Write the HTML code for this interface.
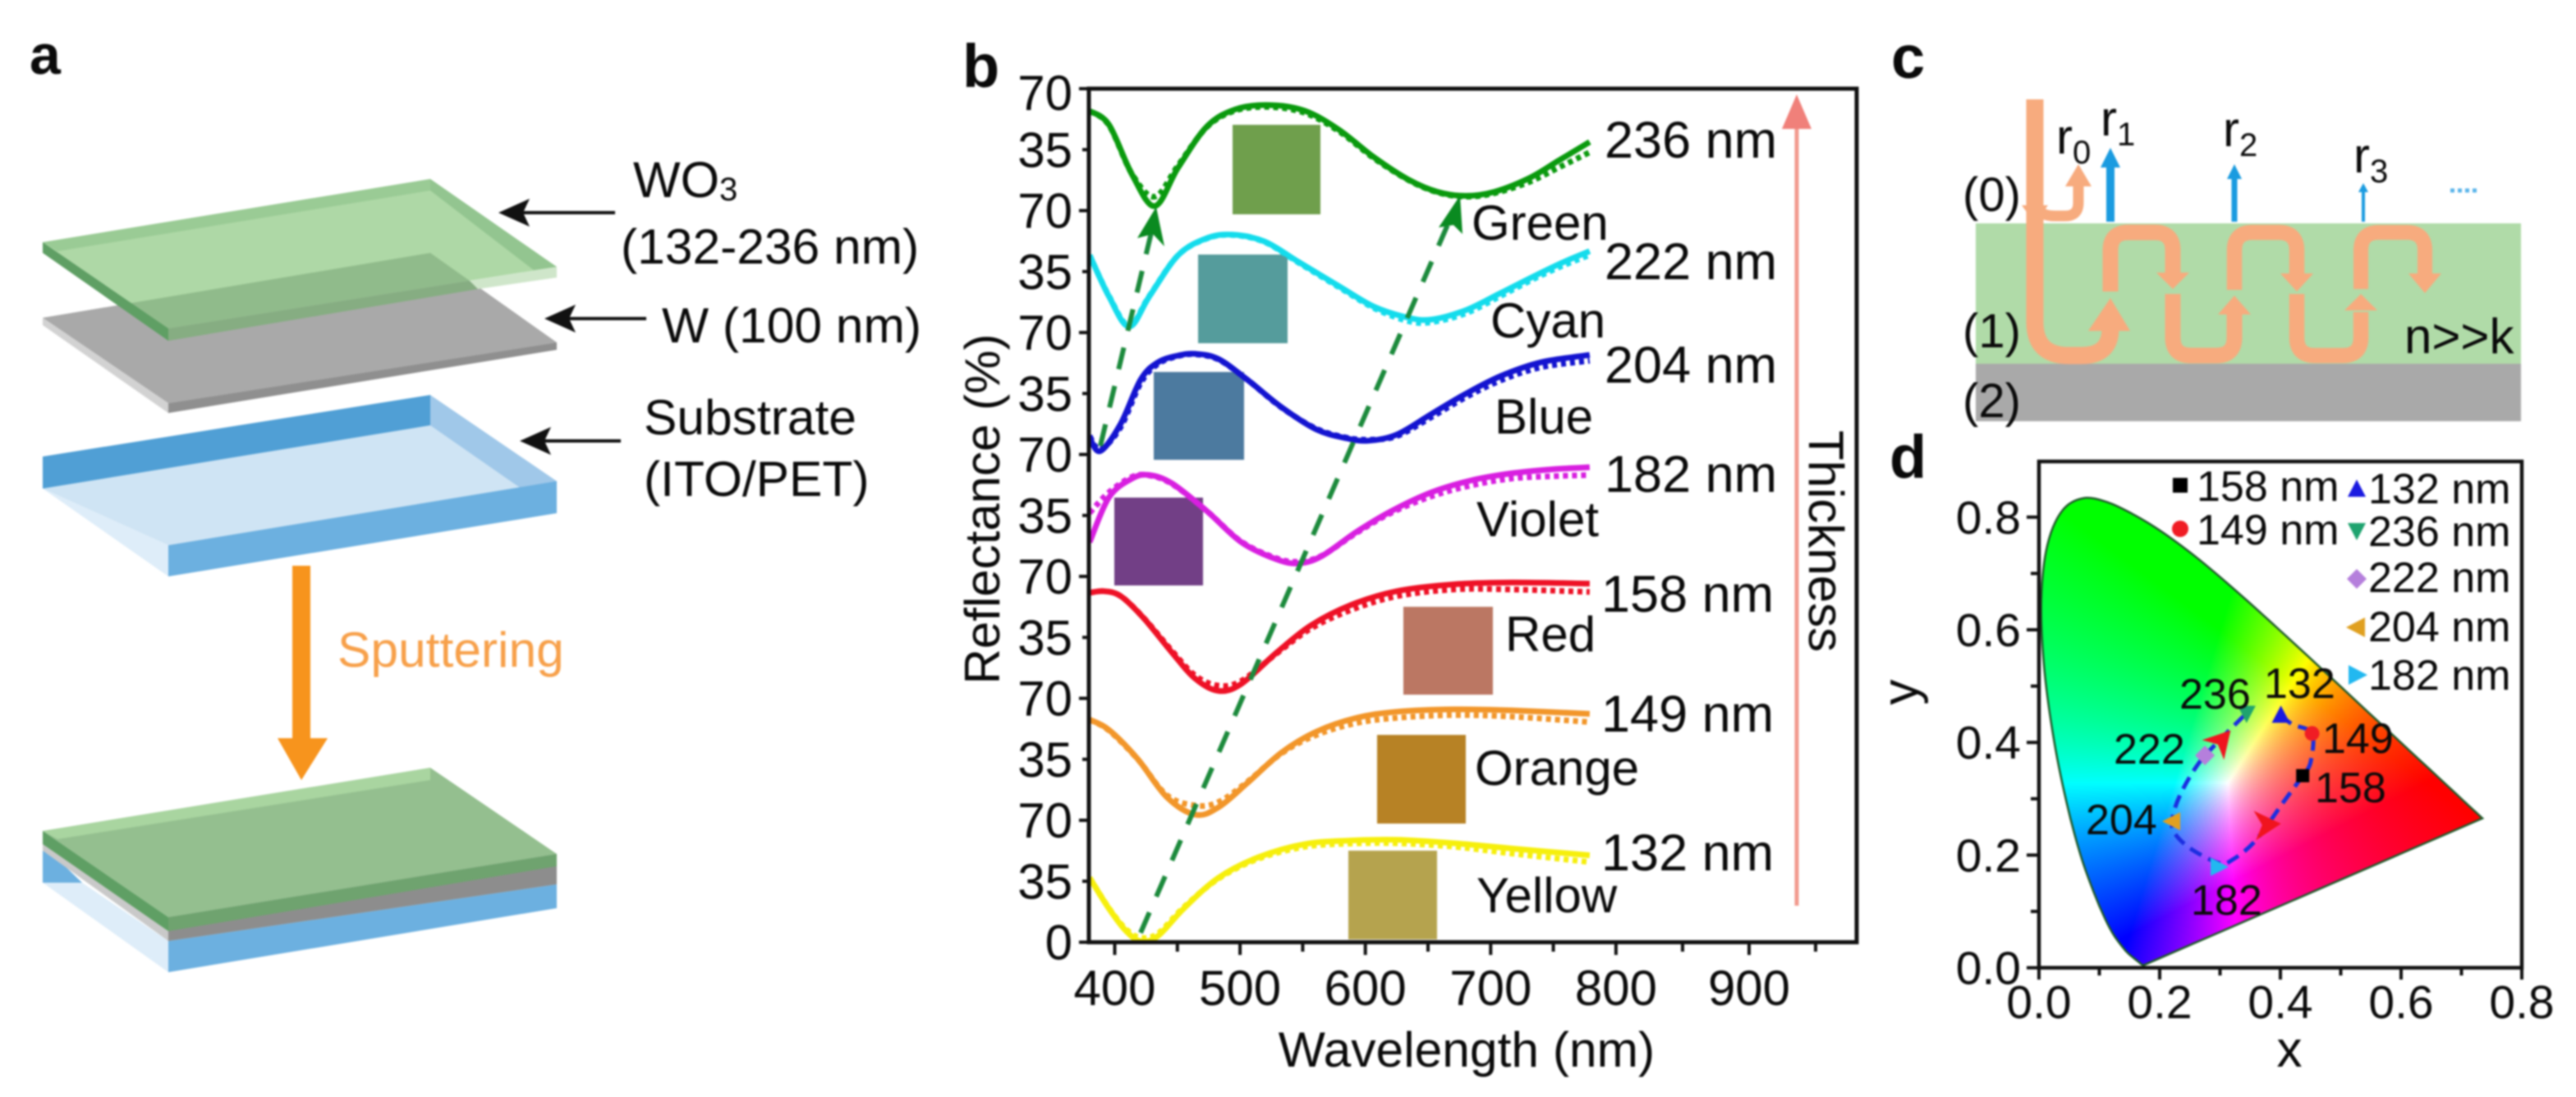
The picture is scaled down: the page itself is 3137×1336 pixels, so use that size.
<!DOCTYPE html>
<html lang="en">
<head>
<meta charset="utf-8">
<title>WO3 thin film structural colour figure</title>
<style>
html,body{margin:0;padding:0;background:#fff;width:3137px;height:1336px;overflow:hidden}
#stage{position:relative;width:3137px;height:1336px;filter:blur(1px)}
#gamut{position:absolute;left:2483px;top:562px}
#art{position:absolute;left:0;top:0}
text{font-family:"Liberation Sans",sans-serif;fill:#0a0a0a}
</style>
</head>
<body>
<div id="stage">
<canvas id="gamut" width="588" height="617"></canvas>
<svg id="art" width="3137" height="1336" viewBox="0 0 3137 1336" xmlns="http://www.w3.org/2000/svg">

<!-- Panel a -->
<g>
<text x="36" y="90" font-size="68" font-weight="700">a</text>
<g>
<polygon points="52,387 524,308 678,417 205,491" fill="#a9a9a9"/>
<polygon points="205,491 678,417 678,426 205,503" fill="#8f8f8f"/>
<polygon points="52,387 205,491 205,503 52,396" fill="#d2d2d2"/>
</g>
<g>
<polygon points="52,295 524,218 678,325 205,400" fill="#aed8a6"/>
<polygon points="160,369 524,308 572,342 205,400" fill="#90bb8b"/>
<polygon points="52,295 524,218 524,232 70,306" fill="#9acb95"/>
<polygon points="524,218 678,325 650,329 524,232" fill="#93c590"/>
<polygon points="205,400 572,342 582,352 205,415" fill="#86ad82"/>
<polygon points="572,342 678,325 678,338 582,352" fill="#cfe6ca"/>
<polygon points="52,295 205,400 205,415 52,308" fill="#5f9f64"/>
</g>
<g>
<polygon points="52,595 524,518 678,586 205,664" fill="#cfe4f4"/>
<polygon points="52,556 524,481 524,518 52,595" fill="#509fd5"/>
<polygon points="524,481 678,586 678,625 524,518" fill="#a0c8e9"/>
<polygon points="52,595 205,664 205,702 52,595" fill="#deedf9"/>
<polygon points="205,664 678,586 678,625 205,702" fill="#6cb0e0"/>
</g>
<polygon points="356,689 378,689 378,899 399,899 367,950 338,899 356,899" fill="#f7941d"/>
<text x="411" y="812" font-size="60.5" style="fill:#f7a04a">Sputtering</text>
<g>
<polygon points="205,1146 678,1077 678,1106 205,1184" fill="#6cb0e0"/>
<polygon points="52,1075 205,1184 205,1146 100,1075" fill="#deedf9"/>
<polygon points="52,1036 52,1075 100,1075 70,1046" fill="#6cb0e0"/>
<polygon points="205,1146 678,1077 678,1040 205,1117" fill="#8d8d8d"/>
<polygon points="52,1025 205,1134 205,1146 52,1036" fill="#c9c9c9"/>
<polygon points="52,1012 524,935 678,1040 205,1117" fill="#94bf8f"/>
<polygon points="52,1012 524,935 524,950 70,1022" fill="#a9d5a0"/>
<polygon points="205,1117 678,1040 678,1055 205,1134" fill="#6fa36f"/>
<polygon points="52,1012 205,1117 205,1134 52,1028" fill="#5f9f64"/>
</g>
<g>
<line x1="635" y1="259" x2="749" y2="259" stroke="#111" stroke-width="4"/>
<polygon points="607,259 645,242 637,259 645,276" fill="#111"/>
</g>
<g>
<line x1="690" y1="388" x2="787" y2="388" stroke="#111" stroke-width="4"/>
<polygon points="663,388 701,371 693,388 701,405" fill="#111"/>
</g>
<g>
<line x1="660" y1="537" x2="756" y2="537" stroke="#111" stroke-width="4"/>
<polygon points="633,537 671,520 663,537 671,554" fill="#111"/>
</g>
<text x="771" y="240" font-size="61">WO<tspan font-size="40" dy="4">3</tspan></text>
<text x="756" y="321" font-size="60.5">(132-236 nm)</text>
<text x="806" y="417" font-size="60.5">W (100 nm)</text>
<text x="784" y="529" font-size="60.5">Substrate</text>
<text x="784" y="604" font-size="60.5">(ITO/PET)</text>
</g>

<!-- Panel b static -->
<g id="panelB">
<text x="1172" y="106" font-size="74" font-weight="700">b</text>
<g id="swatches">
<rect x="1501" y="152" width="107" height="109" fill="#6f9f4c"/>
<rect x="1459" y="310" width="109" height="108" fill="#559c9c"/>
<rect x="1405" y="453" width="110" height="107" fill="#4c7a9f"/>
<rect x="1357" y="606" width="108" height="107" fill="#723f86"/>
<rect x="1709" y="739" width="109" height="107" fill="#bb7763"/>
<rect x="1677" y="895" width="108" height="108" fill="#b78225"/>
<rect x="1642" y="1036" width="108" height="108" fill="#b5a34e"/>
</g>
<g id="curves"></g>
<g>
<line x1="1389" y1="1136" x2="1768" y2="262" stroke="#1c8a3c" stroke-width="6" stroke-dasharray="27 21"/>
<polygon points="1778,238 1781,285 1770,274 1752,277" fill="#0a8a20"/>
<line x1="1340" y1="543" x2="1404" y2="275" stroke="#1c8a3c" stroke-width="6" stroke-dasharray="27 21"/>
<polygon points="1408,252 1418,300 1404,285 1385,290" fill="#0a8a20"/>
</g>
<g id="axesB"></g>
<text transform="translate(1217,620) rotate(-90)" text-anchor="middle" font-size="60">Reflectance (%)</text>
<text x="1786" y="1299" text-anchor="middle" font-size="60.5">Wavelength (nm)</text>
<text x="1954" y="192" font-size="63">236 nm</text>
<text x="1954" y="340" font-size="63">222 nm</text>
<text x="1954" y="466" font-size="63">204 nm</text>
<text x="1954" y="599" font-size="63">182 nm</text>
<text x="1950" y="745" font-size="63">158 nm</text>
<text x="1950" y="891" font-size="63">149 nm</text>
<text x="1950" y="1060" font-size="63">132 nm</text>
<text x="1792" y="292" font-size="60">Green</text>
<text x="1815" y="411" font-size="60">Cyan</text>
<text x="1820" y="528" font-size="60">Blue</text>
<text x="1798" y="653" font-size="60">Violet</text>
<text x="1833" y="793" font-size="60">Red</text>
<text x="1796" y="956" font-size="60">Orange</text>
<text x="1798" y="1111" font-size="60">Yellow</text>
<g>
<line x1="2188" y1="1103" x2="2188" y2="150" stroke="#f29a8e" stroke-width="5"/>
<polygon points="2188,115 2206,157 2170,157" fill="#f0807a"/>
</g>
<text transform="translate(2203,524) rotate(90)" font-size="60">Thickness</text>
</g>

<!-- Panel c -->
<g>
<text x="2303" y="95" font-size="74" font-weight="700">c</text>
<rect x="2406" y="272" width="664" height="171" fill="#b0dba8"/>
<rect x="2406" y="443" width="664" height="70" fill="#a9a9a9"/>
<g fill="none" stroke="#f7ab7e">
<path d="M2478,121 V392 Q2478,433 2519,433 H2535 Q2570,433 2570,400" stroke-width="21"/>
<path d="M2570,355 V305 Q2570,283 2592,283 H2624 Q2646,283 2646,305 V335" stroke-width="19"/>
<path d="M2646,358 V411 Q2646,433 2668,433 H2699 Q2721,433 2721,411 V383" stroke-width="19"/>
<path d="M2721,353 V305 Q2721,283 2743,283 H2775 Q2797,283 2797,305 V335" stroke-width="18.5"/>
<path d="M2797,358 V411 Q2797,433 2819,433 H2853 Q2875,433 2875,411 V380" stroke-width="18.5"/>
<path d="M2875,352 V305 Q2875,283 2897,283 H2931 Q2953,283 2953,305 V335" stroke-width="18"/>
<path d="M2484,255 Q2486,263 2503,263 H2515 Q2531,263 2531,247 V225" stroke-width="13"/>
</g>
<g fill="#f7ab7e">
<polygon points="2462,250 2494,250 2478,272"/>
<polygon points="2515,227 2547,227 2531,200"/>
<polygon points="2543,403 2594,403 2570,363"/>
<polygon points="2626,332 2666,332 2646,352"/>
<polygon points="2701,383 2741,383 2721,360"/>
<polygon points="2777,333 2817,333 2797,355"/>
<polygon points="2855,378 2895,378 2875,358"/>
<polygon points="2933,333 2973,333 2953,357"/>
</g>
<g>
<line x1="2570" y1="270" x2="2570" y2="200" stroke="#1a9be0" stroke-width="10"/>
<polygon points="2570,180 2582,204 2558,204" fill="#1a9be0"/>
<line x1="2721" y1="270" x2="2721" y2="215" stroke="#1a9be0" stroke-width="7"/>
<polygon points="2721,200 2730,218 2712,218" fill="#1a9be0"/>
<line x1="2878" y1="270" x2="2878" y2="232" stroke="#1a9be0" stroke-width="4"/>
<polygon points="2878,223 2884,234 2872,234" fill="#1a9be0"/>
<line x1="2984" y1="232" x2="3020" y2="232" stroke="#5ab4ea" stroke-width="5" stroke-dasharray="5 4"/>
</g>
<text x="2390" y="257" font-size="58">(0)</text>
<text x="2390" y="423" font-size="58">(1)</text>
<text x="2390" y="508" font-size="58">(2)</text>
<text x="2504" y="187" font-size="60">r<tspan font-size="40" dy="12">0</tspan></text>
<text x="2558" y="165" font-size="60">r<tspan font-size="40" dy="12">1</tspan></text>
<text x="2707" y="178" font-size="60">r<tspan font-size="40" dy="12">2</tspan></text>
<text x="2866" y="210" font-size="60">r<tspan font-size="40" dy="12">3</tspan></text>
<text x="2928" y="430" font-size="60">n&gt;&gt;k</text>
</g>

<!-- Panel d -->
<g id="panelD">
<text x="2301" y="582" font-size="74" font-weight="700">d</text>
<g id="cieMarks"></g>
<g id="axesD"></g>
<text x="2788" y="1299" text-anchor="middle" font-size="62">x</text>
<text transform="translate(2335,843) rotate(-90)" text-anchor="middle" font-size="62">y</text>
<text x="2654" y="863" font-size="52">236</text>
<text x="2757" y="850" font-size="52">132</text>
<text x="2574" y="930" font-size="52">222</text>
<text x="2828" y="917" font-size="52">149</text>
<text x="2819" y="977" font-size="52">158</text>
<text x="2540" y="1016" font-size="52">204</text>
<text x="2668" y="1114" font-size="52">182</text>
<g>
<rect x="2646" y="582" width="18" height="18" fill="#000"/>
<text x="2675" y="610" font-size="52">158 nm</text>
<circle cx="2655" cy="644" r="10" fill="#f01c24"/>
<text x="2675" y="663" font-size="52">149 nm</text>
<polygon points="2870,584 2881,605 2859,605" fill="#1a1ae0"/>
<text x="2884" y="613" font-size="52">132 nm</text>
<polygon points="2870,658 2881,637 2859,637" fill="#1fa36f"/>
<text x="2884" y="665" font-size="52">236 nm</text>
<polygon points="2870,693 2882,705 2870,717 2858,705" fill="#b57fdc"/>
<text x="2884" y="721" font-size="52">222 nm</text>
<polygon points="2857,764 2880,752 2880,776" fill="#e0a020"/>
<text x="2884" y="781" font-size="52">204 nm</text>
<polygon points="2883,822 2860,810 2860,834" fill="#22b8f0"/>
<text x="2884" y="840" font-size="52">182 nm</text>
</g>
</g>
</svg>
</div>

<script>
// Panel b data (reflectance %, each curve is stacked on its own 70 % band)
const bandNames = ['yellow','orange','red','violet','blue','cyan','green'];
const bandColors = ['#f6ef0c','#f2962a','#ee1126','#d81fe0','#1414d0','#14dcec','#0a9a0e'];

const yellowWl = [380,395.4,409,420.7,434.5,455,482.8,515,552,588.5,625,671,717,779];
const yellowFit = [37,19.3,6.5,0.6,3.6,19.3,37,48.9,56.4,58.4,58.8,56.8,53.8,49.9];
const yellowMeas = [37,19.5,7.5,2.6,5,20,36.5,48,54.8,56.6,56.8,54.8,50.9,46];

const orangeWl = [380,395.4,418.4,441.4,464.4,482.8,505.7,533.3,561,593,625,671,717,779];
const orangeFit = [57.8,51.9,35.1,13.4,3.2,7.5,21.3,39,50.9,58.8,62.3,63.7,63.1,61.1];
const orangeMeas = [57.8,51.5,35,14.5,8.5,10.5,22,38.5,49,55.8,58.8,60.4,59.5,56.4];

const redWl = [380,391.5,405,423.4,446,464.4,482.8,501,528.8,556.4,588.5,625,671,717,779];
const redFit = [60.6,61.5,58.6,45.8,26,11.2,4.3,8.3,26,41.8,53.6,61.5,65.5,66.5,65.9];
const redMeas = [60.6,61.5,58.6,46,27,13,7.3,10,25.5,40,50.7,58.6,62.5,62.5,61.1];

const violetWl = [380,395.4,413.8,427.6,445.9,473.6,501,528.8,547,565.5,593,620.7,652.9,685,717,749.4,779];
const violetFit = [19.7,45.4,56.2,58.2,53.3,37.5,19.7,9.9,7.5,11.8,25.6,37.5,48.3,55.2,59.2,61.5,62.7];
const violetMeas = [36.5,48.3,57.2,58,53,37.5,20,10.5,8.5,12,25,36.5,46,52.3,56.2,57.5,58.2];

const blueWl = [380,388.5,404.6,420.7,434.5,450.6,464.4,482.8,505.7,533,560.9,583.9,602,625,652.9,680.5,708,740,779];
const blueFit = [9.5,2,17.4,43,52.9,56.8,57.8,54.8,43,27.2,14.4,9.5,7.9,11.4,23.3,35,45,52.9,57.2];
const blueMeas = [10.5,3,15.5,41,52,56.5,57.5,54.5,43,27,14.8,9.8,8.5,10.5,21.5,33,42.5,50,53.8];

const cyanWl = [380,395.4,411.5,427.6,450.6,473.6,494,519.5,547,579,607,634.5,653,680,708,735,758,779];
const cyanFit = [44.4,20.7,3.4,20.7,44.4,54.2,56.2,52.3,40.4,26.6,14.8,8.5,7.5,12.8,22.7,32.5,40.4,46.7];
const cyanMeas = [44.4,21,4,21,44.4,54,56,52,40,26,14,6.5,6,11,21,31,38.5,44.5];

const greenWl = [380,395.4,413.8,432,450.6,473.6,496.6,524,552,579,607,634.5,657.5,680,703,731,754,779];
const greenFit = [57.2,49.3,20.7,2.6,24.7,48.3,58.2,60.6,57.2,46.4,30.6,17.8,10.8,8.5,10.8,18.7,28.6,39.4];
const greenMeas = [57.2,49,21,8,26,48,57.5,59.5,56,45.5,30,17.5,10.5,8,10,16.5,24.6,33.5];

const bandWl = [yellowWl,orangeWl,redWl,violetWl,blueWl,cyanWl,greenWl];
const bandFit = [yellowFit,orangeFit,redFit,violetFit,blueFit,cyanFit,greenFit];
const bandMeas = [yellowMeas,orangeMeas,redMeas,violetMeas,blueMeas,cyanMeas,greenMeas];

const yTickLabelsB = ['0','35','70','35','70','35','70','35','70','35','70','35','70','35','70'];
const xMajorB = [400,500,600,700,800,900];
const xMinorB = [450,550,650,750,850,950];

// Panel d data
const locusX = [.1741,.1733,.1714,.1689,.1644,.1566,.1440,.1241,.1096,.0913,.0687,.0454,.0235,.0082,.0039,.0139,.0389,.0743,.1142,.1547,.1929,.2296,.2658,.3016,.3373,.3731,.4087,.4441,.4788,.5125,.5448,.5752,.6029,.6270,.6658,.6915,.7079,.7260,.7347];
const locusY = [.0050,.0048,.0051,.0069,.0109,.0177,.0297,.0578,.0868,.1327,.2007,.2950,.4127,.5384,.6548,.7502,.8120,.8338,.8262,.8059,.7816,.7543,.7243,.6923,.6589,.6245,.5896,.5547,.5202,.4866,.4544,.4242,.3965,.3725,.3340,.3083,.2920,.2740,.2653];
const loopX = [.401,.420,.4525,.450,.437,.405,.359,.321,.298,.252,.226,.2205,.233,.264,.302,.344];
const loopY = [.448,.432,.416,.365,.341,.294,.226,.192,.186,.211,.237,.260,.305,.362,.407,.452];
const sampleNames = ['158','149','132','236','222','204','182'];
const sampleX = [.437,.4525,.4008,.344,.275,.2205,.298];
const sampleY = [.341,.416,.448,.452,.377,.26,.179];
const sampleShapes = ['square','circle','up','down','diamond','left','right'];
const sampleColors = ['#000','#f01c24','#1a1ae0','#1fa36f','#b57fdc','#e0a020','#22b8f0'];
const arrowX = [.302,.378];
const arrowY = [.403,.254];
const arrowAngles = [-48,-4];
const xTicksD = [0,.2,.4,.6,.8];
const yTicksD = [0,.2,.4,.6,.8];
const xMinorD = [.1,.3,.5,.7];
const yMinorD = [.1,.3,.5,.7];

const NS = 'http://www.w3.org/2000/svg';
function mk(parent, tag, attrs, txt){
  const e = document.createElementNS(NS, tag);
  for (const k in attrs) e.setAttribute(k, attrs[k]);
  if (txt !== undefined) e.textContent = txt;
  parent.appendChild(e);
  return e;
}
function xB(w){ return w <= 800 ? 1357.5 + (w-400)*1.526 : 1968 + (w-800)*1.62; }
function yB(v){ return 1147.5 - v*2.1214; }
function xD(v){ return 2483 + v*735; }
function yD(v){ return 1178.6 - v*686; }
function smooth(pts){
  let d = 'M'+pts[0][0].toFixed(1)+','+pts[0][1].toFixed(1);
  for (let i=0;i<pts.length-1;i++){
    const p0=pts[Math.max(i-1,0)],p1=pts[i],p2=pts[i+1],p3=pts[Math.min(i+2,pts.length-1)];
    const c1=[p1[0]+(p2[0]-p0[0])/6,p1[1]+(p2[1]-p0[1])/6];
    const c2=[p2[0]-(p3[0]-p1[0])/6,p2[1]-(p3[1]-p1[1])/6];
    d+=' C'+c1[0].toFixed(1)+','+c1[1].toFixed(1)+' '+c2[0].toFixed(1)+','+c2[1].toFixed(1)+' '+p2[0].toFixed(1)+','+p2[1].toFixed(1);
  }
  return d;
}

// Panel b curves
const curves = document.getElementById('curves');
bandNames.forEach(function(name,i){
  const base = i*70;
  const fitPts = bandWl[i].map(function(w,j){ return [xB(w), yB(base+bandFit[i][j])]; });
  const measPts = bandWl[i].map(function(w,j){ return [xB(w), yB(base+bandMeas[i][j])]; });
  const m = mk(curves,'path',{d:smooth(measPts),fill:'none',stroke:bandColors[i],'stroke-width':7,'stroke-dasharray':'6 5'});
  
  
  const f = mk(curves,'path',{d:smooth(fitPts),fill:'none',stroke:bandColors[i],'stroke-width':7});
  
  
});

// Panel b axes
const axB = document.getElementById('axesB');
const frameB = mk(axB,'rect',{x:1326,y:108,width:935,height:1039.5,fill:'none',stroke:'#111','stroke-width':5});


yTickLabelsB.forEach(function(lab,i){
  const v = i*35;
  const t = mk(axB,'line',{x1:1326,x2:i%2===0?1314:1318,y1:yB(v),y2:yB(v),stroke:'#111','stroke-width':4});
  
  
  const l = mk(axB,'text',{x:1306,y:yB(v)+(i===14?26:21),'text-anchor':'end','font-size':60},lab);
  
  
});
xMajorB.forEach(function(w){
  const t = mk(axB,'line',{x1:xB(w),x2:xB(w),y1:1147,y2:1163,stroke:'#111','stroke-width':4});
  
  
  const l = mk(axB,'text',{x:xB(w),y:1224,'text-anchor':'middle','font-size':60},String(w));
  
  
});
xMinorB.forEach(function(w){
  const t = mk(axB,'line',{x1:xB(w),x2:xB(w),y1:1147,y2:1159,stroke:'#111','stroke-width':4});
  
  
});

// Panel d gamut fill
const locusPath = smooth(locusX.map(function(v,i){ return [xD(v),yD(locusY[i])]; }))+' Z';
(function(){
  const cv = document.getElementById('gamut');
  const ctx = cv.getContext('2d');
  const W = cv.width, H = cv.height;
  const off = document.createElement('canvas');
  off.width = W; off.height = H;
  const oc = off.getContext('2d');
  const img = oc.createImageData(W,H);
  for (let py=0;py<H;py++){
    for (let px=0;px<W;px++){
      const x = px/735, y = (1178.6-562-py)/686;
      if (y<=0.001) continue;
      const z = 1-x-y;
      let r = 3.2406*x-1.5372*y-0.4986*z;
      let g = -0.9689*x+1.8758*y+0.0415*z;
      let b = 0.0557*x-0.2040*y+1.0570*z;
      r=Math.max(r,0);g=Math.max(g,0);b=Math.max(b,0);
      const m=Math.max(r,g,b)||1;
      const i=(py*W+px)*4;
      img.data[i]=255*Math.pow(r/m,0.85);
      img.data[i+1]=255*Math.pow(g/m,0.85);
      img.data[i+2]=255*Math.pow(b/m,0.85);
      img.data[i+3]=255;
    }
  }
  oc.putImageData(img,0,0);
  ctx.save();
  ctx.translate(-2483,-562);
  ctx.clip(new Path2D(locusPath));
  ctx.translate(2483,562);
  ctx.drawImage(off,0,0);
  ctx.restore();
})();

// Panel d marks
const marks = document.getElementById('cieMarks');
const locusEl = mk(marks,'path',{d:locusPath,fill:'none',stroke:'#1f5a2a','stroke-width':2.5});


const loopPts = loopX.map(function(v,i){ return [xD(v),yD(loopY[i])]; });
const loopEl = mk(marks,'path',{d:smooth(loopPts),fill:'none',stroke:'#1c2ee0','stroke-width':5,'stroke-dasharray':'16 9'});


sampleNames.forEach(function(name,i){
  const cx=xD(sampleX[i]), cy=yD(sampleY[i]), s=sampleShapes[i], c=sampleColors[i];
  let el;
  if (s==='square') el=mk(marks,'rect',{x:cx-8,y:cy-8,width:16,height:16,fill:c});
  else if (s==='circle') el=mk(marks,'circle',{cx:cx,cy:cy,r:9,fill:c});
  else {
    const shapes={up:[[0,-12],[11,9],[-11,9]],down:[[0,12],[11,-9],[-11,-9]],diamond:[[0,-12],[12,0],[0,12],[-12,0]],left:[[-12,0],[10,-11],[10,11]],right:[[12,0],[-10,-11],[-10,11]]};
    el=mk(marks,'polygon',{points:shapes[s].map(function(p){return (cx+p[0])+','+(cy+p[1]);}).join(' '),fill:c});
  }
  
  
});
arrowX.forEach(function(v,i){
  const a=mk(marks,'polygon',{points:'17,0 -15,-18 -6,0 -15,18',fill:'#f0141e',transform:'translate('+xD(v)+','+yD(arrowY[i])+') rotate('+arrowAngles[i]+')'});
  
  
});

// Panel d axes
const axD = document.getElementById('axesD');
const frameD = mk(axD,'rect',{x:2483,y:562,width:588,height:616.6,fill:'none',stroke:'#111','stroke-width':4.5});


xTicksD.forEach(function(v){
  const t=mk(axD,'line',{x1:xD(v),x2:xD(v),y1:1178,y2:1193,stroke:'#111','stroke-width':4});
  
  
  const l=mk(axD,'text',{x:xD(v),y:1240,'text-anchor':'middle','font-size':57},v.toFixed(1));
  
  
});
yTicksD.forEach(function(v){
  const t=mk(axD,'line',{x1:2483,x2:2468,y1:yD(v),y2:yD(v),stroke:'#111','stroke-width':4});
  
  
  const l=mk(axD,'text',{x:2461,y:yD(v)+20,'text-anchor':'end','font-size':57},v.toFixed(1));
  
  
});
xMinorD.forEach(function(v){
  const t=mk(axD,'line',{x1:xD(v),x2:xD(v),y1:1178,y2:1188,stroke:'#111','stroke-width':4});
  
  
});
yMinorD.forEach(function(v){
  const t=mk(axD,'line',{x1:2483,x2:2473,y1:yD(v),y2:yD(v),stroke:'#111','stroke-width':4});
  
  
});
</script>
</body>
</html>
